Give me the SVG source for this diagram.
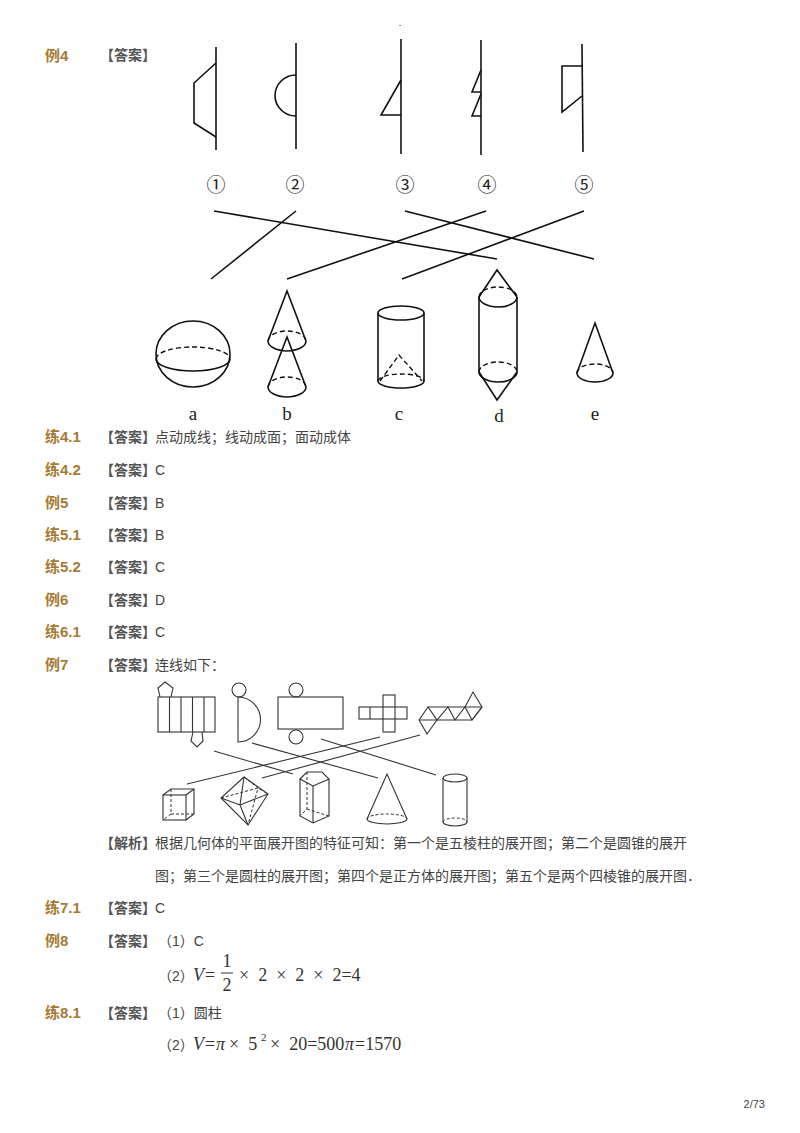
<svg xmlns="http://www.w3.org/2000/svg" width="800" height="1133" viewBox="0 0 800 1133">
<style>
.lb{font-family:"Liberation Sans","Noto Sans CJK SC",sans-serif;font-size:15px;font-weight:bold;fill:#a57a33}
.da{font-family:"Liberation Sans","Noto Sans CJK SC",sans-serif;font-size:14px;font-weight:bold;fill:#555}
.tx{font-family:"Liberation Sans","Noto Sans CJK SC",sans-serif;font-size:14px;fill:#444}
.mt{font-family:"Liberation Serif","DejaVu Serif",serif;font-size:18px;fill:#333}
.mi{font-family:"Liberation Serif","DejaVu Serif",serif;font-size:18px;font-style:italic;fill:#333}
.sr{font-family:"Liberation Serif","Noto Sans CJK SC",serif;font-size:19px;fill:#222;text-anchor:middle}
.ln{fill:none;stroke:#111;stroke-width:1.6}
.ds{fill:none;stroke:#111;stroke-width:1.4;stroke-dasharray:5 3}
.fl{fill:none;stroke:#333;stroke-width:1.1}
.fd{fill:none;stroke:#333;stroke-width:1;stroke-dasharray:3 2}
</style>
<rect width="800" height="1133" fill="#fff"/>
<text x="400" y="27" class="tx" style="font-size:8px" text-anchor="middle">-</text>

<g id="labels">
<text x="45" y="61" class="lb">例4</text><text x="100" y="60" class="da">【答案】</text>
<text x="45" y="442" class="lb">练4.1</text><text x="100" y="442" class="da">【答案】</text><text x="155" y="442" class="tx">点动成线；线动成面；面动成体</text>
<text x="45" y="475" class="lb">练4.2</text><text x="100" y="475" class="da">【答案】</text><text x="155" y="475" class="tx">C</text>
<text x="45" y="508" class="lb">例5</text><text x="100" y="508" class="da">【答案】</text><text x="155" y="508" class="tx">B</text>
<text x="45" y="540" class="lb">练5.1</text><text x="100" y="540" class="da">【答案】</text><text x="155" y="540" class="tx">B</text>
<text x="45" y="572" class="lb">练5.2</text><text x="100" y="572" class="da">【答案】</text><text x="155" y="572" class="tx">C</text>
<text x="45" y="605" class="lb">例6</text><text x="100" y="605" class="da">【答案】</text><text x="155" y="605" class="tx">D</text>
<text x="45" y="637" class="lb">练6.1</text><text x="100" y="637" class="da">【答案】</text><text x="155" y="637" class="tx">C</text>
<text x="45" y="670" class="lb">例7</text><text x="100" y="670" class="da">【答案】</text><text x="155" y="670" class="tx">连线如下：</text>
<text x="100" y="848" class="da">【解析】</text><text x="155" y="848" class="tx">根据几何体的平面展开图的特征可知：第一个是五棱柱的展开图；第二个是圆锥的展开</text>
<text x="155" y="881" class="tx">图；第三个是圆柱的展开图；第四个是正方体的展开图；第五个是两个四棱锥的展开图．</text>
<text x="45" y="913" class="lb">练7.1</text><text x="100" y="913" class="da">【答案】</text><text x="155" y="913" class="tx">C</text>
<text x="45" y="946" class="lb">例8</text><text x="100" y="946" class="da">【答案】</text><text x="158" y="946" class="tx">（1）C</text>
<text x="158" y="981" class="tx">（2）</text><text x="193" y="981" class="mi">V</text><text x="205" y="981" class="mt">=</text>
<text x="227" y="967" class="mt" text-anchor="middle">1</text><line x1="221" y1="973" x2="233" y2="973" stroke="#333" stroke-width="1"/><text x="227" y="991" class="mt" text-anchor="middle">2</text>
<text x="239" y="981" class="mt" xml:space="preserve">×  2  ×  2  ×  2=4</text>
<text x="45" y="1018" class="lb">练8.1</text><text x="100" y="1018" class="da">【答案】</text><text x="158" y="1018" class="tx">（1）圆柱</text>
<text x="158" y="1050" class="tx">（2）</text><text x="193" y="1050" class="mi">V</text><text x="205" y="1050" class="mt">=</text><text x="216" y="1050" class="mi">π</text><text x="229" y="1050" class="mt" xml:space="preserve">×  5</text><text x="261" y="1041" class="mt" style="font-size:11px">2</text><text x="270" y="1050" class="mt" xml:space="preserve">×  20=500</text><text x="345" y="1050" class="mi">π</text><text x="355" y="1050" class="mt">=1570</text>
<text x="765" y="1108" class="tx" style="font-size:11px" text-anchor="end">2/73</text>
</g>

<g id="fig4-shapes">
<line x1="216" y1="47" x2="216" y2="150" class="ln"/><polyline points="216,63 194,83 194,123 216,137" class="ln"/>
<line x1="296" y1="43" x2="296" y2="149" class="ln"/><path d="M296,75 A21,20.5 0 0 0 296,116" class="ln"/>
<line x1="401" y1="39" x2="401" y2="154" class="ln"/><polyline points="401,80 381,115 401,115" class="ln"/>
<line x1="481" y1="40" x2="481" y2="155" class="ln"/><polyline points="481,70 472,92 481,92" class="ln"/><polyline points="481,94 472,116 481,116" class="ln"/>
<line x1="582" y1="44" x2="583" y2="152" class="ln"/><polyline points="582,66 562,66 562,112 582,96" class="ln"/>
<text x="216" y="192" class="sr">①</text><text x="295" y="192" class="sr">②</text><text x="405" y="192" class="sr">③</text><text x="487" y="192" class="sr">④</text><text x="584" y="192" class="sr">⑤</text>
</g>
<g id="fig4-solids">
<ellipse cx="193" cy="354" rx="37" ry="33" class="ln"/>
<path d="M156,359 A37,12 0 0 0 230,359" class="ln"/><path d="M156,359 A37,12 0 0 1 230,359" class="ds"/>
<path d="M268,341 L287,291 L306,341" class="ln"/><path d="M268,341 A19,10 0 0 0 306,341" class="ln"/><path d="M268,341 A19,10 0 0 1 306,341" class="ds"/>
<path d="M268,387 L287,337 L306,387" class="ln"/><path d="M268,387 A19,10 0 0 0 306,387" class="ln"/><path d="M268,387 A19,10 0 0 1 306,387" class="ds"/>
<ellipse cx="401" cy="313" rx="23" ry="7" class="ln"/><line x1="378" y1="313" x2="378" y2="381" class="ln"/><line x1="424" y1="313" x2="424" y2="381" class="ln"/>
<path d="M378,381 A23,7 0 0 0 424,381" class="ln"/><path d="M378,381 A23,7 0 0 1 424,381" class="ds"/><polyline points="380,381 399,355 422,381" class="ds"/>
<path d="M479,297 L497,270 L517,297" class="ln"/><path d="M479,297 A19,10 0 0 0 517,297" class="ln"/><path d="M479,297 A19,10 0 0 1 517,297" class="ds"/>
<line x1="479" y1="297" x2="479" y2="372" class="ln"/><line x1="517" y1="297" x2="517" y2="372" class="ln"/>
<path d="M479,372 A19,10 0 0 0 517,372" class="ln"/><path d="M479,372 A19,10 0 0 1 517,372" class="ds"/><path d="M479,372 L497,400 L517,372" class="ln"/>
<path d="M577,373 L595,323 L613,373" class="ln"/><path d="M577,373 A18,9 0 0 0 613,373" class="ln"/><path d="M577,373 A18,9 0 0 1 613,373" class="ds"/>
<text x="193" y="420" class="sr">a</text><text x="287" y="420" class="sr">b</text><text x="399" y="420" class="sr">c</text><text x="499" y="422" class="sr">d</text><text x="595" y="420" class="sr">e</text>
</g>

<g id="fig7-nets">
<rect x="158" y="697" width="57" height="35" class="fl"/>
<line x1="169.5" y1="697" x2="169.5" y2="732" class="fl"/><line x1="181" y1="697" x2="181" y2="732" class="fl"/><line x1="192.5" y1="697" x2="192.5" y2="732" class="fl"/><line x1="204" y1="697" x2="204" y2="732" class="fl"/>
<polyline points="160,697 158,688 165,682 173,688 171,697" class="fl"/>
<polyline points="193,732 191,741 197,747 203,741 202,732" class="fl"/>
<circle cx="239" cy="690" r="7" class="fl"/><path d="M238,697 L238,742 A22.5,22.5 0 0 0 238,697" class="fl"/>
<rect x="278" y="697" width="65" height="32" class="fl"/><circle cx="296" cy="690" r="7" class="fl"/><circle cx="296" cy="737" r="7" class="fl"/>
<rect x="359" y="707" width="48" height="12" class="fl"/><rect x="383" y="695" width="12" height="37" class="fl"/><line x1="370" y1="707" x2="370" y2="719" class="fl"/>
<polyline points="419,720 428,707 437,720 448,707 455,720 465,707 472,720 482,707" class="fl"/>
<line x1="428" y1="707" x2="482" y2="707" class="fl"/><line x1="419" y1="720" x2="472" y2="720" class="fl"/>
<polyline points="419,720 427,734 437,720" class="fl"/><polyline points="465,707 473,692 482,707 472,720" class="fl"/>
</g>
<g id="fig7-solids">
<rect x="163" y="795" width="23" height="25" class="fl"/><polyline points="163,795 171,789 194,789 194,814 186,820" class="fl"/><line x1="186" y1="795" x2="194" y2="789" class="fl"/>
<polyline points="171,789 171,814 194,814" class="fd"/><line x1="171" y1="814" x2="163" y2="820" class="fd"/>
<polygon points="244,777 221,798 248,825 268,794" class="fl"/><polyline points="244,777 240,805 248,825" class="fl"/><polyline points="221,798 240,805 268,794" class="fl"/>
<polyline points="244,777 258,788 248,825" class="fd"/><polyline points="221,798 258,788 268,794" class="fd"/>
<polygon points="300,779 307,772 322,772 329,779 313,786" class="fl"/><polyline points="300,779 300,816 313,823 329,816 329,779" class="fl"/><line x1="313" y1="786" x2="313" y2="823" class="fl"/>
<polyline points="307,772 307,809 300,816" class="fd"/><line x1="307" y1="809" x2="329" y2="816" class="fd"/>
<path d="M367,819 L387,774 L407,819" class="fl"/><path d="M367,819 A20,5 0 0 0 407,819" class="fl"/><path d="M367,819 A20,5 0 0 1 407,819" class="fd"/>
<ellipse cx="455" cy="778" rx="12" ry="4" class="fl"/><line x1="443" y1="778" x2="443" y2="822" class="fl"/><line x1="467" y1="778" x2="467" y2="822" class="fl"/>
<path d="M443,822 A12,4 0 0 0 467,822" class="fl"/><path d="M443,822 A12,4 0 0 1 467,822" class="fd"/>
</g>

<g id="connectors">
<line x1="214" y1="211" x2="497" y2="259" class="ln"/>
<line x1="296" y1="211" x2="211" y2="279" class="ln"/>
<line x1="405" y1="211" x2="594" y2="259" class="ln"/>
<line x1="486" y1="211" x2="287" y2="279" class="ln"/>
<line x1="584" y1="211" x2="402" y2="279" class="ln"/>
<line x1="214" y1="751" x2="293" y2="774" class="fl"/>
<line x1="252" y1="743" x2="378" y2="778" class="fl"/>
<line x1="321" y1="739" x2="436" y2="775" class="fl"/>
<line x1="380" y1="737" x2="187" y2="784" class="fl"/>
<line x1="420" y1="735" x2="262" y2="778" class="fl"/>
</g>
</svg>
